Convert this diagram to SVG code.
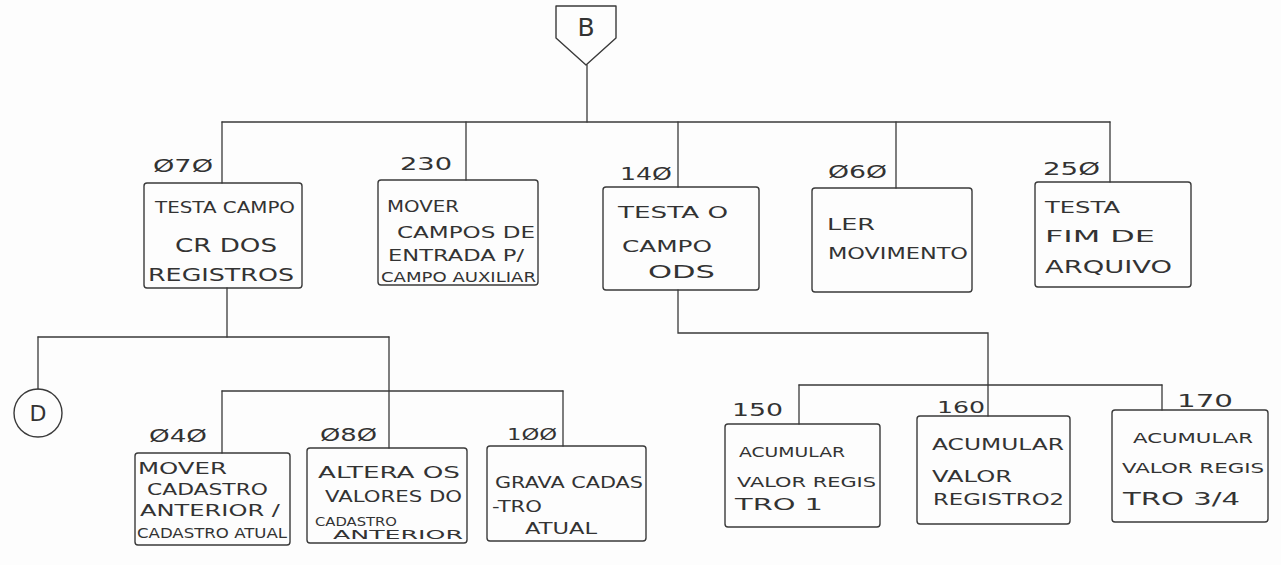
<svg xmlns="http://www.w3.org/2000/svg" width="1281" height="565" viewBox="0 0 1281 565">
<style>
.bg{fill:#fdfdfd}
.box{fill:none;stroke:#3a3a3a;stroke-width:1.4;stroke-linejoin:round}
.ln{fill:none;stroke:#3a3a3a;stroke-width:1.3;stroke-linecap:round}
text{font-family:"DejaVu Sans","Liberation Sans",sans-serif;fill:#333333;font-weight:normal}
.t{font-size:15px}
.n{font-size:17px}
</style>
<rect class="bg" x="0" y="0" width="1281" height="565"/>

<g id="connectors">
  <path class="ln" d="M587 65 V122"/>
  <path class="ln" d="M222 122 H1110"/>
  <path class="ln" d="M222 122 V183"/>
  <path class="ln" d="M466 122 V180"/>
  <path class="ln" d="M678 122 V187"/>
  <path class="ln" d="M896 122 V188"/>
  <path class="ln" d="M1110 122 V182"/>
  <path class="ln" d="M227 288 V337"/>
  <path class="ln" d="M38 337 H389"/>
  <path class="ln" d="M38 337 V389"/>
  <path class="ln" d="M389 337 V448"/>
  <path class="ln" d="M222 391 H563"/>
  <path class="ln" d="M222 391 V453"/>
  <path class="ln" d="M563 391 V446"/>
  <path class="ln" d="M678 290 V333 H988 V416"/>
  <path class="ln" d="M799 385 H1162"/>
  <path class="ln" d="M799 385 V424"/>
  <path class="ln" d="M1162 385 V410"/>
</g>

<g id="node-B">
  <path class="box" d="M556 6 H616 V38 L586 65 L556 38 Z"/>
  <text x="586" y="36" text-anchor="middle" style="font-size:25px">B</text>
</g>

<g id="node-D">
  <circle class="box" cx="38" cy="413" r="24"/>
  <text x="38" y="421" text-anchor="middle" style="font-size:22px">D</text>
</g>

<g id="node-070">
  <text class="n" x="153" y="172" textLength="60" lengthAdjust="spacingAndGlyphs">Ø7Ø</text>
  <rect class="box" x="144" y="183" width="158" height="105" rx="3"/>
  <text class="t" x="155" y="213" textLength="140" lengthAdjust="spacingAndGlyphs">TESTA CAMPO</text>
  <text x="175" y="252" style="font-size:20px" textLength="102" lengthAdjust="spacingAndGlyphs">CR DOS</text>
  <text x="148" y="281" style="font-size:18px" textLength="146" lengthAdjust="spacingAndGlyphs">REGISTROS</text>
</g>

<g id="node-230">
  <text class="n" x="400" y="170" textLength="52" lengthAdjust="spacingAndGlyphs">230</text>
  <rect class="box" x="378" y="180" width="160" height="105" rx="3"/>
  <text class="t" x="387" y="212" textLength="72" lengthAdjust="spacingAndGlyphs">MOVER</text>
  <text class="t" x="397" y="238" textLength="138" lengthAdjust="spacingAndGlyphs">CAMPOS DE</text>
  <text class="t" x="388" y="261" textLength="136" lengthAdjust="spacingAndGlyphs">ENTRADA P/</text>
  <text x="381" y="282" style="font-size:14px" textLength="155" lengthAdjust="spacingAndGlyphs">CAMPO AUXILIAR</text>
</g>

<g id="node-140">
  <text class="n" x="620" y="180" textLength="52" lengthAdjust="spacingAndGlyphs">14Ø</text>
  <rect class="box" x="603" y="187" width="156" height="103" rx="3"/>
  <text class="t" x="618" y="218" textLength="110" lengthAdjust="spacingAndGlyphs">TESTA O</text>
  <text class="t" x="622" y="252" textLength="90" lengthAdjust="spacingAndGlyphs">CAMPO</text>
  <text class="n" x="648" y="278" textLength="67" lengthAdjust="spacingAndGlyphs">ODS</text>
</g>

<g id="node-060">
  <text class="n" x="828" y="178" textLength="59" lengthAdjust="spacingAndGlyphs">Ø6Ø</text>
  <rect class="box" x="812" y="188" width="160" height="104" rx="3"/>
  <text class="t" x="827" y="230" textLength="48" lengthAdjust="spacingAndGlyphs">LER</text>
  <text class="t" x="828" y="259" textLength="140" lengthAdjust="spacingAndGlyphs">MOVIMENTO</text>
</g>

<g id="node-250">
  <text class="n" x="1043" y="175" textLength="57" lengthAdjust="spacingAndGlyphs">25Ø</text>
  <rect class="box" x="1035" y="182" width="156" height="105" rx="3"/>
  <text class="t" x="1045" y="213" textLength="75" lengthAdjust="spacingAndGlyphs">TESTA</text>
  <text class="t" x="1045" y="242" textLength="110" lengthAdjust="spacingAndGlyphs">FIM DE</text>
  <text class="n" x="1045" y="273" textLength="127" lengthAdjust="spacingAndGlyphs">ARQUIVO</text>
</g>

<g id="node-040">
  <text class="n" x="149" y="442" textLength="58" lengthAdjust="spacingAndGlyphs">Ø4Ø</text>
  <rect class="box" x="135" y="453" width="155" height="92" rx="3"/>
  <text class="t" x="138" y="474" textLength="89" lengthAdjust="spacingAndGlyphs">MOVER</text>
  <text class="t" x="147" y="495" textLength="121" lengthAdjust="spacingAndGlyphs">CADASTRO</text>
  <text class="t" x="140" y="516" textLength="140" lengthAdjust="spacingAndGlyphs">ANTERIOR /</text>
  <text x="137" y="538" style="font-size:14px" textLength="150" lengthAdjust="spacingAndGlyphs">CADASTRO ATUAL</text>
</g>

<g id="node-080">
  <text class="n" x="320" y="441" textLength="57" lengthAdjust="spacingAndGlyphs">Ø8Ø</text>
  <rect class="box" x="307" y="448" width="160" height="95" rx="3"/>
  <text x="318" y="478" style="font-size:16px" textLength="142" lengthAdjust="spacingAndGlyphs">ALTERA OS</text>
  <text class="t" x="325" y="502" textLength="137" lengthAdjust="spacingAndGlyphs">VALORES DO</text>
  <text x="315" y="526" style="font-size:12px" textLength="82" lengthAdjust="spacingAndGlyphs">CADASTRO</text>
  <text x="333" y="539" style="font-size:13px" textLength="130" lengthAdjust="spacingAndGlyphs">ANTERIOR</text>
</g>

<g id="node-100">
  <text x="507" y="440" style="font-size:16px" textLength="50" lengthAdjust="spacingAndGlyphs">1ØØ</text>
  <rect class="box" x="487" y="446" width="159" height="95" rx="3"/>
  <text class="t" x="495" y="488" textLength="148" lengthAdjust="spacingAndGlyphs">GRAVA CADAS</text>
  <text class="t" x="492" y="512" textLength="50" lengthAdjust="spacingAndGlyphs">-TRO</text>
  <text class="t" x="525" y="534" textLength="72" lengthAdjust="spacingAndGlyphs">ATUAL</text>
</g>

<g id="node-150">
  <text class="n" x="732" y="416" textLength="51" lengthAdjust="spacingAndGlyphs">150</text>
  <rect class="box" x="725" y="424" width="155" height="103" rx="3"/>
  <text x="739" y="457" style="font-size:14px" textLength="106" lengthAdjust="spacingAndGlyphs">ACUMULAR</text>
  <text x="737" y="487" style="font-size:14px" textLength="139" lengthAdjust="spacingAndGlyphs">VALOR REGIS</text>
  <text class="t" x="735" y="510" textLength="88" lengthAdjust="spacingAndGlyphs">TRO 1</text>
</g>

<g id="node-160">
  <text x="937" y="413" style="font-size:16px" textLength="48" lengthAdjust="spacingAndGlyphs">160</text>
  <rect class="box" x="917" y="416" width="153" height="108" rx="3"/>
  <text class="t" x="932" y="450" textLength="132" lengthAdjust="spacingAndGlyphs">ACUMULAR</text>
  <text class="t" x="932" y="482" textLength="80" lengthAdjust="spacingAndGlyphs">VALOR</text>
  <text class="t" x="933" y="505" textLength="131" lengthAdjust="spacingAndGlyphs">REGISTRO2</text>
</g>

<g id="node-170">
  <text class="n" x="1177" y="407" textLength="56" lengthAdjust="spacingAndGlyphs">170</text>
  <rect class="box" x="1112" y="410" width="156" height="112" rx="3"/>
  <text x="1133" y="443" style="font-size:14px" textLength="120" lengthAdjust="spacingAndGlyphs">ACUMULAR</text>
  <text x="1122" y="473" style="font-size:14px" textLength="142" lengthAdjust="spacingAndGlyphs">VALOR REGIS</text>
  <text class="n" x="1123" y="505" textLength="117" lengthAdjust="spacingAndGlyphs">TRO 3/4</text>
</g>
</svg>
